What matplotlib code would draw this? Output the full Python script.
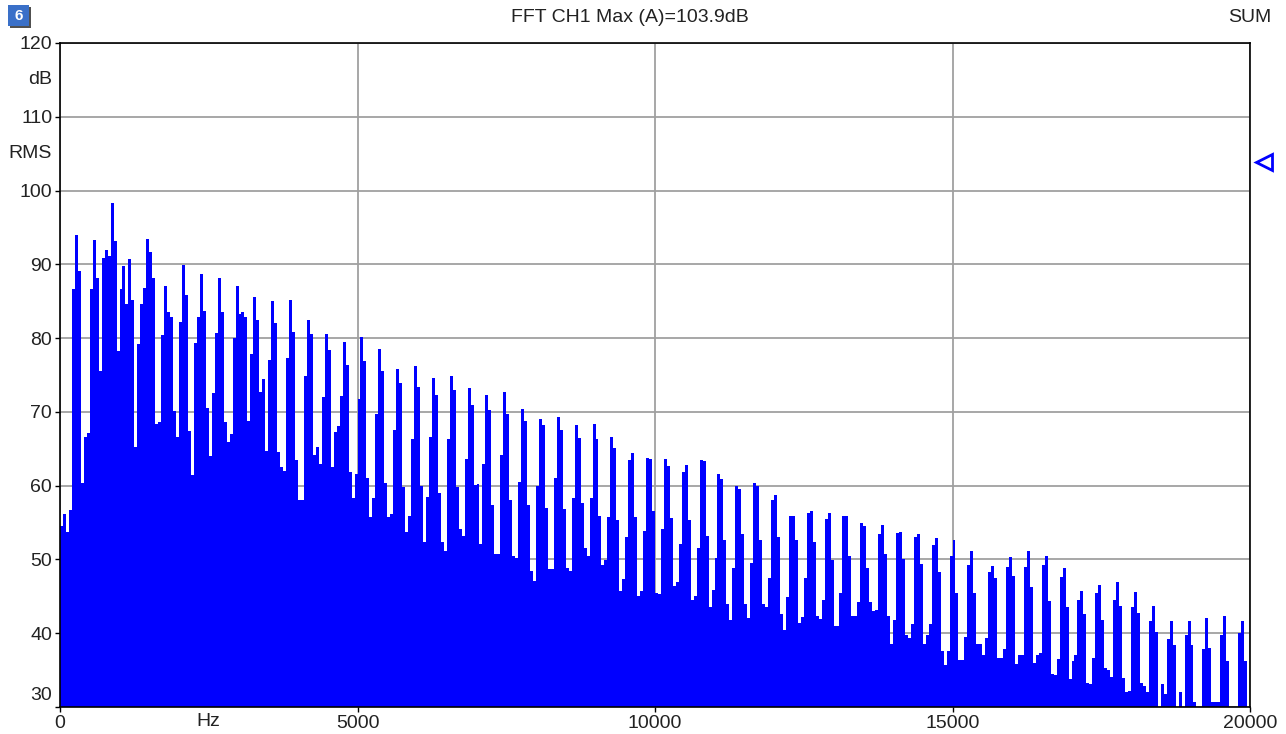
import numpy as np
import matplotlib
matplotlib.use("Agg")
import matplotlib.pyplot as plt
from matplotlib.patches import Rectangle
from matplotlib.transforms import blended_transform_factory

# FFT spectrum, 50 Hz lines from 0 to 20 kHz (level in dB, A-weighted RMS)
bin_width_hz = 50
levels_db = [
    54.6, 56.1, 53.7, 56.7, 86.6, 94.0, 89.1, 60.3, 66.6, 67.2,
    86.6, 93.3, 88.2, 75.5, 90.8, 91.9, 91.1, 98.3, 93.2, 78.3,
    86.6, 89.8, 84.6, 90.7, 85.2, 65.2, 79.2, 84.6, 86.8, 93.4,
    91.7, 88.2, 68.3, 68.6, 80.4, 87.1, 83.6, 82.9, 70.1, 66.6,
    82.2, 89.9, 85.8, 67.4, 61.5, 79.4, 82.8, 88.7, 83.7, 70.5,
    64.0, 72.5, 80.7, 88.2, 83.6, 68.6, 65.9, 67.0, 80.0, 87.0,
    83.3, 83.6, 82.8, 68.8, 77.9, 85.6, 82.4, 72.7, 74.5, 64.7,
    77.1, 85.0, 82.1, 64.5, 62.5, 62.0, 77.3, 85.2, 80.8, 63.5,
    58.1, 58.1, 74.8, 82.4, 80.5, 64.2, 65.2, 63.0, 72.0, 80.5,
    78.4, 62.5, 67.3, 68.1, 72.2, 79.5, 76.3, 61.9, 58.3, 61.6,
    71.8, 80.2, 76.9, 61.1, 55.7, 58.3, 69.7, 78.5, 75.5, 60.3,
    55.7, 56.2, 67.6, 75.8, 73.9, 59.8, 53.7, 55.9, 66.3, 76.2,
    73.4, 60.0, 52.3, 58.5, 66.6, 74.6, 72.3, 59.0, 52.3, 51.1,
    66.3, 74.9, 72.9, 59.8, 54.1, 53.2, 63.6, 73.3, 70.9, 60.1,
    60.2, 52.1, 62.9, 72.3, 70.2, 57.4, 50.8, 50.8, 64.1, 72.7,
    69.7, 58.1, 50.5, 50.2, 60.5, 70.4, 68.7, 57.4, 48.4, 47.1,
    60.0, 69.1, 68.2, 57.0, 48.7, 48.7, 61.0, 69.3, 67.5, 56.8,
    48.8, 48.5, 58.3, 68.2, 66.4, 57.7, 51.6, 50.5, 58.3, 68.3,
    66.3, 55.9, 49.2, 49.9, 55.8, 66.6, 65.1, 55.4, 45.7, 47.3,
    53.0, 63.5, 64.4, 55.8, 45.0, 45.7, 53.9, 63.7, 63.6, 56.5,
    45.5, 45.3, 54.1, 63.6, 62.6, 55.6, 46.4, 46.9, 52.1, 61.9,
    62.8, 55.3, 44.5, 45.1, 51.6, 63.5, 63.3, 53.2, 43.5, 45.8,
    50.2, 61.6, 60.9, 52.7, 44.0, 41.8, 48.9, 60.0, 59.5, 53.5,
    44.0, 42.1, 49.5, 60.4, 60.0, 52.6, 44.0, 43.5, 47.5, 58.1,
    58.7, 53.1, 42.6, 40.4, 44.9, 55.9, 55.9, 52.6, 41.4, 42.2,
    47.5, 56.3, 56.6, 52.3, 42.4, 41.9, 44.5, 55.5, 56.3, 49.9,
    41.0, 41.0, 45.5, 55.9, 55.9, 50.5, 42.4, 42.4, 44.2, 55.0,
    54.6, 48.8, 44.2, 43.0, 43.2, 53.5, 54.7, 50.7, 42.4, 38.5,
    41.8, 53.6, 53.7, 50.0, 39.7, 39.3, 41.2, 53.1, 53.4, 49.4,
    38.5, 39.8, 41.2, 51.9, 52.9, 48.3, 37.6, 35.7, 37.6, 50.5,
    52.6, 45.4, 36.4, 36.4, 39.5, 49.3, 51.2, 45.4, 38.5, 38.5,
    37.0, 39.4, 48.3, 49.1, 47.5, 36.6, 36.6, 37.9, 49.0, 50.3,
    47.8, 35.8, 37.0, 37.0, 49.0, 51.1, 46.3, 36.0, 37.0, 37.3,
    49.2, 50.4, 44.3, 34.5, 34.4, 36.5, 47.6, 48.9, 43.5, 33.8,
    36.2, 37.1, 44.5, 45.7, 42.6, 33.3, 33.1, 36.6, 45.5, 46.5,
    41.8, 35.3, 35.0, 34.1, 44.5, 47.0, 43.7, 33.9, 32.1, 32.2,
    43.6, 45.6, 42.7, 33.3, 32.9, 32.1, 41.6, 43.7, 40.2, 29.5,
    33.1, 31.8, 39.2, 41.6, 38.4, 29.5, 32.1, 29.5, 39.7, 41.7,
    38.4, 30.7, 29.5, 29.5, 37.9, 42.1, 38.0, 30.7, 30.7, 30.7,
    39.7, 42.3, 36.3, 29.5, 29.5, 29.5, 40.0, 41.7, 36.3, 29.5,
]
max_level_db = 103.9

y_ticks = [40, 50, 60, 70, 80, 90, 100, 110, 120]
x_ticks = [0, 5000, 10000, 15000, 20000]
x_tick_labels = ["0", "5000", "10000", "15000", "20000"]

plt.rcParams["font.family"] = ["Liberation Sans", "DejaVu Sans"]

W, H = 1286, 734
fig = plt.figure(figsize=(W / 100, H / 100), dpi=100)
ax = fig.add_axes([60 / W, 1 - 707 / H, 1190 / W, 664 / H])

edges = np.arange(len(levels_db) + 1) * bin_width_hz
ax.stairs(levels_db, edges, fill=True, baseline=0, color="#0000ff", zorder=2)

ax.set_xlim(0, 20000)
ax.set_ylim(30, 120)
ax.set_axisbelow(True)

ax.set_yticks([30] + y_ticks)
ax.set_yticklabels([""] + [str(v) for v in y_ticks])
ax.set_xticks(x_ticks)
ax.set_xticklabels(x_tick_labels)
ax.grid(True, color="#a0a0a0", linewidth=1.3, zorder=0)

for s in ax.spines.values():
    s.set_color("#000000")
    s.set_linewidth(1.2)
    s.set_zorder(3)

tick_font = 14
text_color = "#222222"
ax.tick_params(axis="both", direction="out", length=3.6, width=1,
               colors="#000000", labelcolor=text_color, labelsize=tick_font, pad=2)

# extra left-axis annotations: units and the 30 dB label lifted inside the frame
ytrans = blended_transform_factory(ax.transAxes, ax.transData)
lab_x = -8 / 1190
ax.text(lab_x, 115, "dB", transform=ytrans, ha="right", va="center",
        fontsize=tick_font, color=text_color)
ax.text(lab_x, 105, "RMS", transform=ytrans, ha="right", va="center",
        fontsize=tick_font, color=text_color)
ax.text(lab_x, 31.6, "30", transform=ytrans, ha="right", va="center",
        fontsize=tick_font, color=text_color)

xtrans = blended_transform_factory(ax.transData, ax.transAxes)
ax.text(2500, -6 / 664, "Hz", transform=xtrans, ha="center", va="top",
        fontsize=tick_font, color=text_color)

# maximum level marker at the right edge
ax.plot([1.012], [max_level_db], transform=ytrans, marker="<", markersize=12,
        markerfacecolor="none", markeredgecolor="#0000ff", markeredgewidth=2,
        clip_on=False, zorder=5)

fig.text(630 / W, 1 - 18 / H, f"FFT CH1 Max (A)={max_level_db}dB", ha="center",
         va="center", fontsize=tick_font, color=text_color)
fig.text(1271 / W, 1 - 18 / H, "SUM", ha="right", va="center",
         fontsize=tick_font, color=text_color)

# window number badge
fig.patches.append(Rectangle((10 / W, 1 - 28 / H), 21 / W, 21 / H,
                             transform=fig.transFigure, facecolor="#505050",
                             edgecolor="none"))
fig.patches.append(Rectangle((8 / W, 1 - 26 / H), 21 / W, 21 / H,
                             transform=fig.transFigure, facecolor="#3a70c8",
                             edgecolor="none"))
fig.text(18.5 / W, 1 - 15.5 / H, "6", ha="center", va="center", fontsize=11,
         fontweight="bold", color="white")

fig.savefig("out.png", dpi=100)
